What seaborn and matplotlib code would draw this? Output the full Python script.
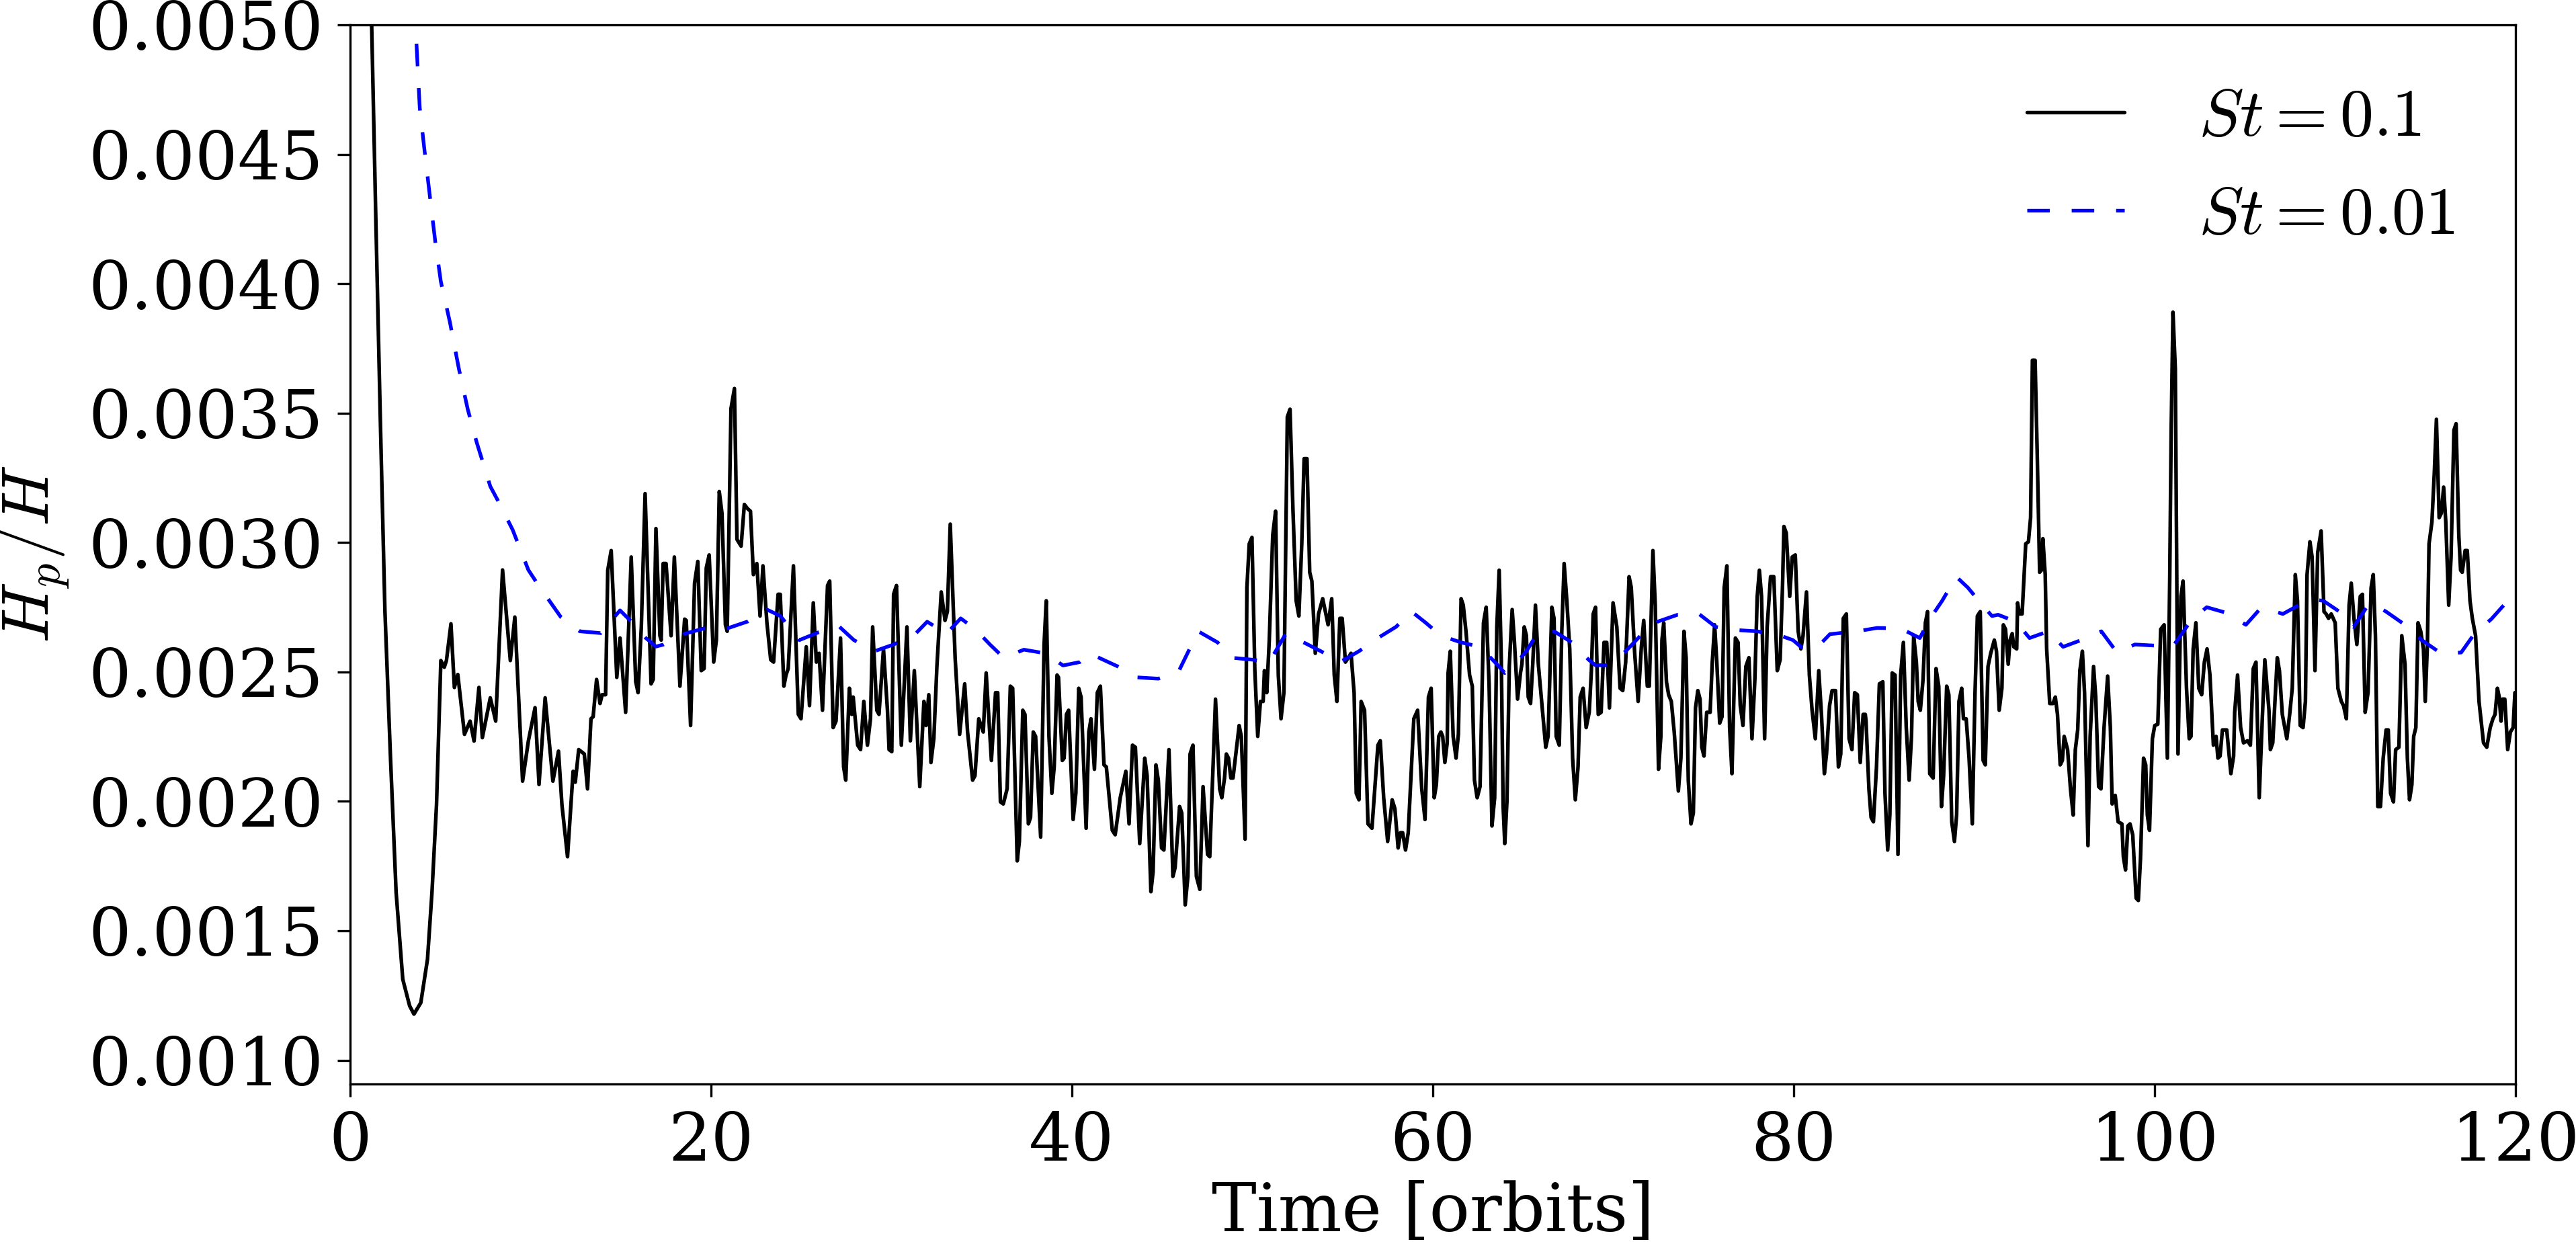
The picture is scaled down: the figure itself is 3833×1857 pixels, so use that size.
import numpy as np
import seaborn as sns
import matplotlib
matplotlib.use("Agg")
import matplotlib.pyplot as plt
from matplotlib.ticker import FormatStrFormatter, MultipleLocator

# --- data (time in orbits, H_p/H in units of 1e-3) ---

# St = 0.1 (black solid)
st01_t = [
    0.9, 1.19, 1.43, 1.68, 1.93, 2.24, 2.55, 2.92, 3.30, 3.54,
    3.92, 4.29, 4.54, 4.79, 5.03, 5.22, 5.34, 5.59, 5.78, 5.97,
    6.34, 6.65, 6.87, 7.14, 7.33, 7.77, 8.07, 8.45, 8.88, 9.13,
    9.56, 9.88, 10.25, 10.47, 10.81, 11.24, 11.55, 11.74,
    12.05, 12.36, 12.48, 12.67, 12.98, 13.16, 13.35, 13.47, 13.66, 13.85,
    13.97, 14.16, 14.28, 14.47, 14.78, 14.96, 15.27, 15.58, 15.83, 15.96,
    16.14, 16.35, 16.68, 16.80, 16.95, 17.17, 17.24, 17.35, 17.51, 17.79,
    17.97, 18.28, 18.54, 18.63, 18.87, 19.09, 19.27, 19.46, 19.62, 19.74,
    19.90, 20.15, 20.30, 20.46, 20.61, 20.80, 20.90, 21.11, 21.30, 21.44,
    21.67, 21.85, 22.04, 22.19, 22.35, 22.54, 22.72, 22.88, 23.10, 23.31,
    23.47, 23.72, 23.84,
    24.04, 24.16, 24.28, 24.57, 24.84, 24.99, 25.28, 25.46, 25.67, 25.84,
    25.99, 26.18, 26.46, 26.58, 26.77, 26.93, 27.18, 27.35, 27.47, 27.67,
    27.80, 27.88, 28.13, 28.29, 28.47, 28.67, 28.84, 28.96, 29.19, 29.31,
    29.56, 29.78, 29.87, 30.02, 30.12, 30.28, 30.55, 30.86, 31.05, 31.27,
    31.57, 31.80, 31.92, 32.07, 32.19, 32.35, 32.52, 32.76, 32.97, 33.10,
    33.26, 33.53, 33.78, 34.06, 34.22, 34.50, 34.63, 34.84, 35.09, 35.25,
    35.54, 35.77, 35.89,
    36.04, 36.20, 36.41, 36.59, 36.72, 36.97, 37.09, 37.28, 37.40, 37.59,
    37.71, 37.86, 37.99, 38.27, 38.46, 38.58, 38.73, 38.89, 39.02, 39.18,
    39.26, 39.47, 39.57, 39.70, 39.82, 40.07, 40.22, 40.38, 40.51, 40.79,
    40.94, 41.06, 41.25, 41.41, 41.58, 41.78, 41.91, 42.24, 42.40, 42.68,
    42.99, 43.17, 43.36, 43.52, 43.76, 44.04, 44.17, 44.38, 44.50, 44.66,
    44.79, 44.97, 45.10, 45.38, 45.60, 45.72, 45.97, 46.09, 46.28, 46.43,
    46.55, 46.71, 46.90, 47.09, 47.27, 47.52, 47.64,
    47.96, 48.19, 48.31, 48.46, 48.56, 48.68, 48.81, 48.93, 49.27, 49.39,
    49.60, 49.70, 49.83, 49.98, 50.14, 50.30, 50.45, 50.60, 50.67, 50.80,
    50.94, 51.13, 51.29, 51.44, 51.59, 51.75, 51.94, 52.09, 52.25, 52.43,
    52.58, 52.74, 52.87, 53.03, 53.18, 53.30, 53.49, 53.67, 53.90, 54.20,
    54.40, 54.54, 54.69, 54.85, 54.98, 55.16, 55.47, 55.64, 55.76, 55.91,
    56.03, 56.22, 56.41, 56.63, 56.96, 57.09, 57.28, 57.50, 57.75, 57.90,
    58.08, 58.21, 58.33, 58.49, 58.64, 58.95, 59.16, 59.39, 59.57, 59.76,
    59.91,
    60.08, 60.20, 60.33, 60.45, 60.55, 60.67, 60.80, 60.85, 60.97, 61.13,
    61.29, 61.42, 61.57, 61.69, 61.84, 62.04, 62.19, 62.31, 62.46, 62.62,
    62.81, 62.96, 63.12, 63.28, 63.43, 63.55, 63.68, 63.80, 63.90, 63.99,
    64.11, 64.24, 64.40, 64.52, 64.70, 64.86, 64.94, 65.07, 65.19, 65.29,
    65.42, 65.54, 65.69, 65.85, 66.10, 66.26, 66.39, 66.60, 66.72, 66.84,
    67.01, 67.15, 67.28, 67.43, 67.59, 67.75, 67.90, 68.05, 68.17, 68.33,
    68.50, 68.67, 68.79, 68.89, 69.02, 69.17, 69.33, 69.49, 69.64, 69.79,
    69.99, 70.20, 70.38, 70.53, 70.69, 70.88, 71.00, 71.19, 71.38, 71.56,
    71.69, 71.89, 72.00,
    72.20, 72.33, 72.51, 72.64, 72.70, 72.80, 72.95, 73.07, 73.22, 73.38,
    73.61, 73.75, 73.92, 74.04, 74.16, 74.31, 74.44, 74.56, 74.69, 74.81,
    74.91, 75.03, 75.18, 75.37, 75.49, 75.62, 75.74, 75.90, 76.03, 76.15,
    76.30, 76.45, 76.58, 76.77, 76.92, 77.04, 77.19, 77.35, 77.52, 77.69,
    77.85, 77.98, 78.10, 78.22, 78.39, 78.53, 78.72, 78.90, 79.09, 79.25,
    79.38, 79.46, 79.59, 79.78, 79.92, 80.09, 80.25, 80.40, 80.52, 80.71,
    80.87, 81.02, 81.20, 81.39, 81.54, 81.70, 81.82, 81.99, 82.13, 82.32,
    82.48, 82.61, 82.75, 82.92, 83.07, 83.23, 83.38, 83.53, 83.69, 83.85,
    83.97,
    84.01, 84.17, 84.29, 84.42, 84.59, 84.75, 84.94, 85.06, 85.21, 85.33,
    85.46, 85.62, 85.78, 85.93, 86.08, 86.24, 86.40, 86.53, 86.65, 86.80,
    86.90, 87.02, 87.17, 87.30, 87.42, 87.54, 87.73, 87.89, 88.04, 88.19,
    88.31, 88.48, 88.60, 88.76, 88.91, 89.03, 89.16, 89.31, 89.41, 89.56,
    89.72, 89.90, 90.05, 90.18, 90.34, 90.50, 90.62, 90.77, 90.92, 91.12,
    91.24, 91.39, 91.54, 91.62, 91.74, 91.89, 91.99, 92.11, 92.20, 92.36,
    92.41, 92.51, 92.66, 92.86, 93.01, 93.13, 93.23, 93.38, 93.50, 93.63,
    93.73, 93.81, 93.94, 94.02, 94.19, 94.37, 94.50, 94.62, 94.77, 94.89,
    94.99, 95.18, 95.34, 95.49, 95.61, 95.74, 95.86,
    96.00, 96.12, 96.31, 96.43, 96.62, 96.74, 96.90, 97.03, 97.20, 97.40,
    97.55, 97.65, 97.82, 97.98, 98.19, 98.27, 98.39, 98.52, 98.64, 98.79,
    98.98, 99.10, 99.22, 99.39, 99.51, 99.60, 99.72, 99.88, 100.01, 100.18,
    100.34, 100.53, 100.71, 100.84, 100.92, 101.02, 101.15, 101.30, 101.46, 101.58,
    101.77, 101.92, 102.02, 102.14, 102.29, 102.45, 102.61, 102.76, 102.91, 103.07,
    103.26, 103.41, 103.51, 103.63, 103.76, 104.00, 104.23, 104.38, 104.44, 104.60,
    104.77, 104.93, 105.15, 105.31, 105.47, 105.62, 105.80, 105.97, 106.11, 106.34,
    106.42, 106.55, 106.80, 106.92, 107.08, 107.33, 107.50, 107.63,
    107.80, 107.92, 108.07, 108.23, 108.36, 108.45, 108.61, 108.73, 108.89, 109.04,
    109.23, 109.39, 109.51, 109.64, 109.79, 110.01, 110.16, 110.35, 110.47, 110.63,
    110.78, 110.90, 111.05, 111.21, 111.40, 111.52, 111.67, 111.83, 112.00, 112.12,
    112.24, 112.37, 112.52, 112.67, 112.83, 112.95, 113.08, 113.24, 113.36, 113.54,
    113.70, 113.88, 114.01, 114.13, 114.26, 114.36, 114.48, 114.60, 114.75, 114.90,
    115.00, 115.12, 115.21, 115.37, 115.50, 115.62, 115.77, 115.89, 116.02, 116.14,
    116.30, 116.43, 116.59, 116.71, 116.86, 116.96, 117.05, 117.21, 117.33, 117.48,
    117.61, 117.79, 117.98, 118.23, 118.41, 118.60, 118.75, 118.87, 119.00, 119.10,
    119.20, 119.28, 119.41, 119.57, 119.72, 119.87, 119.97,
]
st01_h = [
    6.0, 5.02, 4.24, 3.464, 2.738, 2.168, 1.65, 1.313, 1.21, 1.178,
    1.222, 1.39, 1.65, 1.987, 2.544, 2.518, 2.544, 2.686, 2.44, 2.49,
    2.259, 2.31, 2.233, 2.44, 2.246, 2.40, 2.31, 2.894, 2.544, 2.712,
    2.078, 2.233, 2.362, 2.065, 2.40, 2.078, 2.194, 1.987,
    1.786, 2.116, 2.074, 2.200, 2.183, 2.048, 2.319, 2.327, 2.471, 2.378,
    2.412, 2.412, 2.893, 2.969, 2.479, 2.631, 2.344, 2.944, 2.462, 2.420,
    2.674, 3.189, 2.454, 2.471, 3.054, 2.640, 2.623, 2.919, 2.919, 2.640,
    2.944, 2.445, 2.704, 2.699, 2.293, 2.843, 2.927, 2.505, 2.513, 2.902,
    2.952, 2.538, 2.623, 3.197, 3.113, 2.682, 2.657, 3.518, 3.595, 3.012,
    2.986, 3.147, 3.130, 3.121, 2.876, 2.919, 2.716, 2.910, 2.690, 2.547,
    2.538, 2.800, 2.800,
    2.445, 2.488, 2.513, 2.910, 2.336, 2.319, 2.597, 2.370, 2.767, 2.538,
    2.572, 2.352, 2.834, 2.851, 2.285, 2.310, 2.631, 2.133, 2.082, 2.437,
    2.336, 2.403, 2.217, 2.200, 2.386, 2.217, 2.319, 2.674, 2.352, 2.336,
    2.589, 2.352, 2.200, 2.192, 2.800, 2.834, 2.217, 2.674, 2.234, 2.505,
    2.057, 2.386, 2.293, 2.412, 2.150, 2.242, 2.521, 2.809, 2.699, 2.733,
    3.071, 2.555, 2.259, 2.454, 2.268, 2.082, 2.099, 2.319, 2.268, 2.496,
    2.158, 2.420, 2.420,
    1.998, 1.990, 2.048, 2.445, 2.437, 1.770, 1.845, 2.352, 2.336, 1.913,
    1.938, 2.268, 2.251, 1.862, 2.606, 2.775, 2.251, 2.031, 2.133, 2.488,
    2.479, 2.158, 2.167, 2.336, 2.352, 1.930, 2.031, 2.437, 2.403, 1.896,
    2.268, 2.319, 2.124, 2.420, 2.445, 2.141, 2.133, 1.888, 1.871, 2.014,
    2.116, 1.913, 2.217, 2.209, 1.837, 2.167, 2.099, 1.651, 1.727, 2.141,
    2.082, 1.820, 1.812, 2.200, 1.710, 1.744, 1.980, 1.955, 1.600, 1.710,
    2.183, 2.217, 1.710, 1.660, 2.057, 1.795, 1.786,
    2.395, 2.048, 2.014, 2.090, 2.183, 2.167, 2.090, 2.090, 2.293, 2.251,
    1.854, 2.826, 2.995, 3.020, 2.505, 2.251, 2.386, 2.386, 2.505, 2.420,
    2.623, 3.028, 3.121, 2.488, 2.319, 2.420, 3.485, 3.515, 3.130, 2.775,
    2.716, 2.995, 3.324, 3.324, 2.885, 2.851, 2.572, 2.724, 2.783, 2.682,
    2.783, 2.488, 2.386, 2.707, 2.707, 2.538, 2.572, 2.420, 2.031, 2.006,
    2.386, 2.352, 1.913, 1.896, 2.217, 2.234, 2.014, 1.845, 2.006, 1.972,
    1.820, 1.879, 1.879, 1.812, 1.879, 2.319, 2.352, 2.048, 1.930, 2.403,
    2.437,
    2.014, 2.065, 2.251, 2.268, 2.251, 2.150, 2.226, 2.496, 2.580, 2.251,
    2.167, 2.259, 2.783, 2.758, 2.657, 2.488, 2.445, 2.082, 2.014, 2.057,
    2.690, 2.750, 2.454, 1.905, 2.014, 2.674, 2.893, 2.538, 1.980, 1.837,
    1.998, 2.521, 2.741, 2.623, 2.395, 2.496, 2.530, 2.674, 2.640, 2.403,
    2.378, 2.530, 2.758, 2.530, 2.336, 2.209, 2.251, 2.750, 2.707, 2.251,
    2.217, 2.657, 2.919, 2.775, 2.589, 2.167, 2.006, 2.133, 2.403, 2.437,
    2.285, 2.344, 2.505, 2.724, 2.750, 2.336, 2.344, 2.614, 2.614, 2.361,
    2.767, 2.674, 2.437, 2.428, 2.538, 2.868, 2.826, 2.572, 2.386, 2.597,
    2.699, 2.445, 2.445,
    2.969, 2.758, 2.124, 2.251, 2.623, 2.690, 2.462, 2.412, 2.386, 2.268,
    2.040, 2.167, 2.657, 2.555, 2.082, 1.913, 1.955, 2.361, 2.428, 2.395,
    2.209, 2.175, 2.344, 2.344, 2.538, 2.682, 2.538, 2.302, 2.327, 2.826,
    2.910, 2.285, 2.107, 2.631, 2.614, 2.370, 2.293, 2.521, 2.555, 2.242,
    2.471, 2.792, 2.893, 2.792, 2.242, 2.674, 2.868, 2.868, 2.505, 2.547,
    2.826, 3.062, 3.037, 2.792, 2.944, 2.952, 2.657, 2.589, 2.640, 2.809,
    2.488, 2.352, 2.242, 2.505, 2.336, 2.107, 2.183, 2.370, 2.428, 2.428,
    2.133, 2.183, 2.707, 2.724, 2.242, 2.200, 2.420, 2.412, 2.150, 2.336,
    2.336,
    2.310, 2.048, 1.938, 1.921, 2.133, 2.454, 2.462, 2.031, 1.812, 1.947,
    2.496, 2.488, 1.795, 2.488, 2.614, 2.285, 2.082, 2.251, 2.640, 2.538,
    2.386, 2.352, 2.471, 2.690, 2.733, 2.107, 2.090, 2.513, 2.445, 1.980,
    2.099, 2.445, 2.412, 1.921, 1.845, 1.947, 2.386, 2.437, 2.319, 2.319,
    2.167, 1.913, 2.420, 2.716, 2.733, 2.158, 2.141, 2.521, 2.572, 2.623,
    2.580, 2.352, 2.437, 2.682, 2.665, 2.530, 2.623, 2.648, 2.597, 2.589,
    2.767, 2.724, 2.724, 2.995, 3.003, 3.096, 3.704, 3.704, 3.333, 2.885,
    2.893, 3.015, 2.876, 2.589, 2.378, 2.378, 2.403, 2.336, 2.141, 2.158,
    2.251, 2.200, 2.048, 1.947, 2.200, 2.276, 2.505,
    2.580, 2.420, 1.829, 2.251, 2.521, 2.403, 2.057, 2.048, 2.285, 2.484,
    2.285, 1.990, 2.023, 1.921, 1.913, 1.786, 1.735, 1.905, 1.913, 1.871,
    1.626, 1.617, 1.778, 2.167, 2.141, 1.947, 1.888, 2.242, 2.293, 2.298,
    2.665, 2.682, 2.167, 2.859, 3.434, 3.890, 3.671, 2.183, 2.792, 2.851,
    2.437, 2.242, 2.251, 2.589, 2.690, 2.437, 2.412, 2.538, 2.589, 2.488,
    2.217, 2.251, 2.167, 2.175, 2.276, 2.276, 2.107, 2.175, 2.344, 2.488,
    2.285, 2.226, 2.234, 2.217, 2.513, 2.538, 2.014, 2.319, 2.547, 2.352,
    2.200, 2.226, 2.555, 2.505, 2.336, 2.242, 2.344, 2.437,
    2.876, 2.775, 2.293, 2.285, 2.386, 2.876, 3.003, 2.944, 2.505, 2.961,
    3.045, 2.733, 2.724, 2.707, 2.724, 2.690, 2.437, 2.386, 2.370, 2.319,
    2.758, 2.843, 2.707, 2.606, 2.792, 2.800, 2.344, 2.420, 2.826, 2.876,
    2.640, 1.980, 1.980, 2.167, 2.276, 2.276, 2.031, 1.998, 2.200, 2.209,
    2.640, 2.530, 2.167, 2.006, 2.065, 2.251, 2.285, 2.690, 2.657, 2.589,
    2.386, 2.606, 2.995, 3.079, 3.265, 3.476, 3.096, 3.113, 3.214, 3.079,
    2.758, 2.944, 3.434, 3.459, 3.028, 2.893, 2.885, 2.969, 2.969, 2.775,
    2.707, 2.640, 2.386, 2.226, 2.209, 2.285, 2.319, 2.336, 2.437, 2.403,
    2.310, 2.395, 2.395, 2.200, 2.268, 2.285, 2.420,
]

# St = 0.01 (blue dashed)
st001_t = [
    3.40, 3.67, 3.86, 4.10, 4.41, 4.72, 5.03, 5.53, 6.03, 6.52,
    7.02, 7.77, 8.26, 9.01, 9.88, 10.37, 11.68, 12.73, 13.90, 14.96,
    15.52, 16.39, 16.95, 17.38, 18.56, 19.62, 20.98, 22.04, 23.10, 23.85,
    24.90, 25.96, 27.08, 27.92, 29.06, 30.12, 31.27, 31.98, 33.06, 33.84,
    34.65, 35.46, 36.22, 37.34, 38.52, 39.51, 40.44, 40.99, 41.37, 42.55,
    43.61, 44.79, 45.91, 46.46, 47.00, 48.08, 48.83, 50.05, 50.94, 51.79,
    52.00, 52.68, 53.80, 54.85, 55.91, 56.84, 57.96, 58.83, 59.61, 60.45,
    61.57, 62.62, 63.55, 63.99, 64.36, 65.19, 65.79, 66.72, 67.71, 68.64,
    69.02, 69.70, 70.69, 71.44, 72.45, 73.57, 74.75, 75.68, 76.80, 77.98,
    79.28, 79.96, 80.40, 81.33, 82.01, 83.50, 84.63, 85.93, 86.99, 87.54,
    88.23, 89.01, 89.65, 90.46, 90.99, 91.33, 92.32, 93.07, 94.12, 94.93,
    96.05, 97.05, 97.92, 98.91, 100.22, 101.02, 101.27, 102.02, 102.89, 104.00,
    105.06, 105.93, 107.11, 108.23, 108.98, 109.35, 110.35, 111.03, 111.83, 112.02,
    112.83, 113.88, 114.81, 115.81, 116.06, 116.99, 117.73, 118.66, 119.47, 120.00,
]
st001_h = [
    5.400, 4.940, 4.680, 4.530, 4.345, 4.163, 4.008, 3.852, 3.671, 3.515,
    3.386, 3.217, 3.153, 3.049, 2.894, 2.842, 2.712, 2.657, 2.650, 2.738,
    2.699, 2.631, 2.598, 2.606, 2.648, 2.668, 2.670, 2.695, 2.741, 2.716,
    2.623, 2.653, 2.677, 2.623, 2.580, 2.606, 2.643, 2.694, 2.648, 2.707,
    2.665, 2.606, 2.555, 2.586, 2.572, 2.525, 2.538, 2.572, 2.559, 2.521,
    2.479, 2.474, 2.501, 2.580, 2.657, 2.614, 2.555, 2.547, 2.538, 2.640,
    2.653, 2.620, 2.580, 2.538, 2.580, 2.626, 2.674, 2.733, 2.690, 2.640,
    2.614, 2.597, 2.530, 2.496, 2.513, 2.580, 2.648, 2.657, 2.614, 2.547,
    2.526, 2.526, 2.580, 2.635, 2.694, 2.721, 2.724, 2.674, 2.662, 2.657,
    2.640, 2.623, 2.597, 2.597, 2.646, 2.657, 2.670, 2.668, 2.631, 2.704,
    2.775, 2.868, 2.826, 2.758, 2.716, 2.721, 2.694, 2.631, 2.657, 2.597,
    2.626, 2.657, 2.575, 2.606, 2.601, 2.601, 2.623, 2.699, 2.750, 2.728,
    2.682, 2.750, 2.724, 2.767, 2.778, 2.775, 2.728, 2.674, 2.758, 2.767,
    2.733, 2.682, 2.623, 2.575, 2.572, 2.575, 2.648, 2.704, 2.767, 2.800,
]

assert len(st01_t) == len(st01_h)
assert len(st001_t) == len(st001_h)

st01_h = np.array(st01_h) * 1e-3
st001_h = np.array(st001_h) * 1e-3

x_ticks = [0, 20, 40, 60, 80, 100, 120]

# --- style ---
sns.set_theme(style="ticks", rc={
    "axes.edgecolor": "black",
    "axes.labelcolor": "black",
    "text.color": "black",
    "xtick.color": "black",
    "ytick.color": "black",
    "axes.linewidth": 0.8,
    "xtick.major.size": 4.5,
    "ytick.major.size": 4.5,
    "xtick.major.width": 0.8,
    "ytick.major.width": 0.8,
    "xtick.major.pad": 5,
    "ytick.major.pad": 5,
    "font.size": 24,
    "axes.labelsize": 24,
    "xtick.labelsize": 24,
    "ytick.labelsize": 24,
    "legend.fontsize": 24,
})
plt.rcParams["font.family"] = ["DejaVu Serif"]
plt.rcParams["mathtext.fontset"] = "cm"

fig = plt.figure(figsize=(3833 / 300, 1857 / 300), dpi=300)
ax = fig.add_axes([0.1359, 0.1314, 0.8406, 0.8487])

sns.lineplot(x=st01_t, y=st01_h, ax=ax, sort=False, estimator=None,
             color="black", linewidth=1.3, label=r"$St=0.1$")
sns.lineplot(x=st001_t, y=st001_h, ax=ax, sort=False, estimator=None,
             color="blue", linewidth=1.3, linestyle=(0, (6.2, 6.0)),
             label=r"$St=0.01$")

ax.set_xlim(0, 120)
ax.set_ylim(0.000908, 0.005)
ax.set_xticks(x_ticks)
ax.yaxis.set_major_locator(MultipleLocator(0.0005))
ax.yaxis.set_major_formatter(FormatStrFormatter("%.4f"))

ax.set_xlabel("Time [orbits]", labelpad=2)
ax.set_ylabel(r"$H_p/H$", labelpad=6)

ax.legend(loc="upper right", frameon=False, handlelength=1.45,
          handletextpad=1.1, labelspacing=0.5)

fig.savefig("out.png", dpi=300)
